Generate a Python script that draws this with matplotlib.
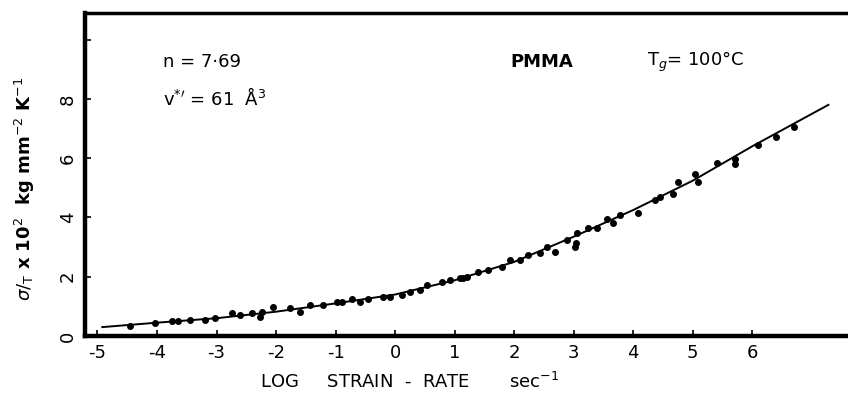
import matplotlib
matplotlib.use("Agg")
import matplotlib.pyplot as plt

plt.rcParams['font.family'] = ['DejaVu Sans']
plt.rcParams['axes.unicode_minus'] = False

# measured points (log strain rate, sigma/T x 10^2)
log_rate = [-4.45, -4.03, -3.75, -3.65, -3.45, -3.19, -3.03, -2.74, -2.6, -2.4,
            -2.24, -2.05, -2.27, -1.76, -1.6, -1.43, -1.21, -0.97, -0.89, -0.72,
            -0.59, -0.45, -0.2, -0.08, 0.12, 0.25, 0.42, 0.54, 0.79, 0.92,
            1.09, 1.21, 1.14, 1.4, 1.56, 1.8, 1.93, 2.1, 2.24, 2.44,
            2.55, 2.69, 2.89, 3.06, 3.04, 3.03, 3.24, 3.39, 3.56, 3.66,
            3.78, 4.08, 4.37, 4.45, 4.67, 4.76, 5.04, 5.09, 5.41, 5.71,
            5.71, 6.1, 6.4, 6.7]
stress = [0.34, 0.44, 0.5, 0.5, 0.54, 0.54, 0.6, 0.77, 0.7, 0.77,
          0.8, 0.98, 0.64, 0.94, 0.8, 1.05, 1.05, 1.15, 1.15, 1.25,
          1.15, 1.25, 1.32, 1.32, 1.39, 1.49, 1.55, 1.72, 1.82, 1.89,
          1.96, 2.0, 1.96, 2.16, 2.23, 2.33, 2.57, 2.57, 2.74, 2.8,
          3.0, 2.84, 3.24, 3.48, 3.14, 3.0, 3.65, 3.65, 3.95, 3.82,
          4.09, 4.16, 4.59, 4.7, 4.8, 5.2, 5.47, 5.2, 5.84, 5.98,
          5.81, 6.45, 6.72, 7.06]

# fitted curve
fit_x = [-4.92, -4, -3, -2, -1, 0, 1, 2, 3, 4, 5, 6, 7.28]
fit_y = [0.3, 0.45, 0.6, 0.82, 1.1, 1.4, 1.88, 2.5, 3.35, 4.25, 5.24, 6.4, 7.8]

x_ticks = [-5, -4, -3, -2, -1, 0, 1, 2, 3, 4, 5, 6]
y_ticks = [0, 2, 4, 6, 8, 10]
y_ticklabels = ['0', '2', '4', '6', '8', '']

fig = plt.figure(figsize=(8.48, 4.03), dpi=100)
ax = fig.add_axes([85 / 848, 1 - 336 / 403, 1 - 85 / 848, (336 - 13) / 403])

ax.plot(fit_x, fit_y, color='black', linewidth=1.4)
ax.plot(log_rate, stress, 'o', color='black', markersize=4)

ax.set_xlim(-5.21, 7.61)
ax.set_ylim(0, 10.9)

ax.set_xticks(x_ticks)
ax.set_xticklabels([str(t) for t in x_ticks], fontsize=13)
ax.set_yticks(y_ticks)
ax.set_yticklabels(y_ticklabels, fontsize=13, rotation=90, va='center')
ax.tick_params(direction='in', length=4, width=1.2, pad=6)

for side in ['left', 'bottom']:
    ax.spines[side].set_linewidth(3.2)
ax.spines['top'].set_linewidth(2.5)
ax.spines['right'].set_visible(False)

ax.text(-3.9, 9.26, 'n = 7·69', fontsize=13, va='center')
ax.text(-3.9, 8.04, r"v$^{*\prime}$ = 61  Å$^{3}$", fontsize=13, va='center')
ax.text(1.93, 9.26, 'PMMA', fontsize=13, fontweight='bold', va='center')
ax.text(4.24, 9.26, r'T$_{g}$= 100°C', fontsize=13, va='center')

fig.text(0.03, 0.53, r'$\sigma/_{\mathrm{T}}$ x 10$^{2}$  kg mm$^{-2}$ K$^{-1}$',
         rotation=90, ha='center', va='center', fontsize=13, fontweight='bold')
fig.text(260 / 848, 1 - 382 / 403, r'LOG     STRAIN  -  RATE       sec$^{-1}$',
         ha='left', va='center', fontsize=13)

fig.savefig('out.png', dpi=100)
